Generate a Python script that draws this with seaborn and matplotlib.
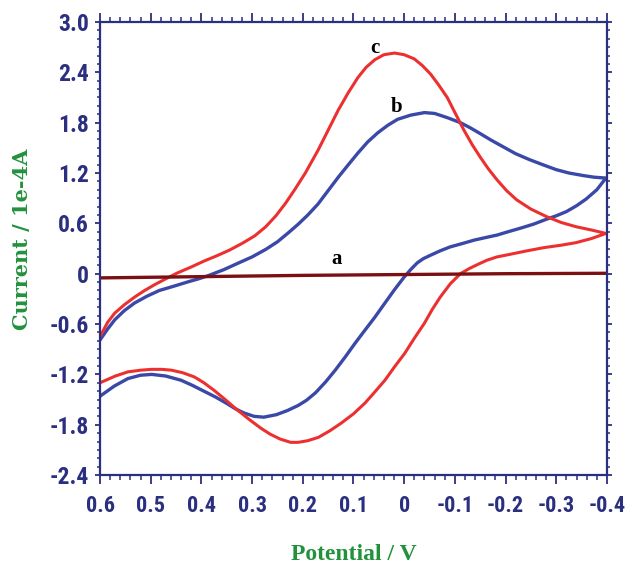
import numpy as np
import pandas as pd
import matplotlib
matplotlib.use("Agg")
import matplotlib.pyplot as plt
import seaborn as sns
from matplotlib import font_manager
from matplotlib.ticker import MultipleLocator

# curve c (red) - forward sweep then return sweep
c_fwd_x = [0.6, 0.585, 0.571, 0.552, 0.532, 0.512, 0.492, 0.470, 0.447, 0.420, 0.395,
           0.371, 0.345, 0.320, 0.295, 0.273, 0.253, 0.234, 0.215, 0.195, 0.170,
           0.150, 0.130, 0.110, 0.091, 0.075, 0.058, 0.040, 0.019, 0.0, -0.020,
           -0.036, -0.052, -0.068, -0.085, -0.101, -0.118, -0.134, -0.150, -0.166,
           -0.183, -0.202, -0.222, -0.250, -0.281, -0.310, -0.339, -0.370, -0.398]
c_fwd_y = [-0.75, -0.58, -0.47, -0.37, -0.28, -0.20, -0.13, -0.06, 0.01, 0.08, 0.15,
           0.21, 0.28, 0.36, 0.45, 0.56, 0.69, 0.84, 1.01, 1.20, 1.47,
           1.71, 1.95, 2.16, 2.34, 2.46, 2.55, 2.61, 2.63, 2.61, 2.56,
           2.48, 2.38, 2.25, 2.10, 1.91, 1.71, 1.54, 1.39, 1.25,
           1.12, 0.99, 0.88, 0.77, 0.68, 0.61, 0.56, 0.52, 0.48]
c_rev_x = [-0.398, -0.370, -0.339, -0.310, -0.275, -0.240, -0.208, -0.183, -0.163, -0.145,
           -0.128, -0.111, -0.091, -0.071, -0.055, -0.040, -0.020, -0.001, 0.019, 0.038,
           0.058, 0.077, 0.100, 0.124, 0.146, 0.169, 0.190, 0.209, 0.224, 0.245,
           0.265, 0.283, 0.305, 0.330, 0.353, 0.375, 0.395, 0.414, 0.437, 0.459,
           0.478, 0.498, 0.520, 0.545, 0.570, 0.6]
c_rev_y = [0.48, 0.42, 0.37, 0.34, 0.31, 0.27, 0.23, 0.20, 0.16, 0.11,
           0.06, 0.0, -0.12, -0.28, -0.43, -0.59, -0.77, -0.95, -1.11, -1.27,
           -1.41, -1.54, -1.67, -1.78, -1.87, -1.95, -1.99, -2.01, -2.01, -1.97,
           -1.91, -1.84, -1.74, -1.62, -1.50, -1.39, -1.30, -1.23, -1.18, -1.15,
           -1.14, -1.14, -1.15, -1.17, -1.22, -1.30]

# curve b (blue)
b_fwd_x = [0.6, 0.585, 0.571, 0.552, 0.532, 0.508, 0.483, 0.455, 0.428, 0.405, 0.385,
           0.355, 0.326, 0.300, 0.273, 0.250, 0.228, 0.209, 0.190, 0.170, 0.150,
           0.130, 0.110, 0.091, 0.072, 0.052, 0.032, 0.013, -0.013, -0.040, -0.060,
           -0.085, -0.111, -0.130, -0.150, -0.172, -0.196, -0.220, -0.247, -0.273,
           -0.300, -0.325, -0.353, -0.375, -0.398]
b_fwd_y = [-0.79, -0.66, -0.55, -0.44, -0.35, -0.27, -0.20, -0.15, -0.10, -0.06, -0.02,
           0.05, 0.13, 0.20, 0.29, 0.38, 0.49, 0.59, 0.70, 0.83, 0.99,
           1.15, 1.30, 1.44, 1.57, 1.68, 1.77, 1.84, 1.89, 1.92, 1.91,
           1.86, 1.80, 1.74, 1.67, 1.59, 1.51, 1.43, 1.36, 1.30,
           1.24, 1.20, 1.17, 1.15, 1.14]
b_rev_x = [-0.398, -0.380, -0.359, -0.340, -0.320, -0.300, -0.281, -0.255, -0.228, -0.205,
           -0.183, -0.160, -0.138, -0.115, -0.091, -0.070, -0.052, -0.038, -0.026, -0.013,
           0.0, 0.019, 0.038, 0.058, 0.077, 0.097, 0.116, 0.136, 0.155, 0.175,
           0.193, 0.209, 0.230, 0.252, 0.277, 0.296, 0.316, 0.333, 0.349, 0.372,
           0.395, 0.418, 0.440, 0.470, 0.498, 0.520, 0.545, 0.572, 0.6]
b_rev_y = [1.14, 1.00, 0.89, 0.81, 0.74, 0.69, 0.65, 0.59, 0.54, 0.50,
           0.46, 0.43, 0.40, 0.36, 0.32, 0.27, 0.22, 0.18, 0.13, 0.05,
           -0.04, -0.19, -0.35, -0.52, -0.67, -0.83, -0.99, -1.15, -1.29, -1.42,
           -1.51, -1.57, -1.63, -1.68, -1.71, -1.70, -1.66, -1.61, -1.55, -1.47,
           -1.40, -1.33, -1.27, -1.22, -1.20, -1.21, -1.25, -1.34, -1.46]

# curve a (blank electrode, nearly flat)
a_x = [0.6, 0.4, 0.2, 0.0, -0.2, -0.4]
a_y = [-0.05, -0.035, -0.02, -0.01, 0.0, 0.005]

navy = "#2b2f80"
green = "#22913c"

installed = {f.name for f in font_manager.fontManager.ttflist}
narrow = [n for n in ["Liberation Sans Narrow", "Roboto Condensed", "Open Sans Condensed",
                      "Arial Narrow"] if n in installed]
if narrow:
    tick_family, xsize, ysize = narrow[0], 16, 17
else:
    tick_family, xsize, ysize = "Liberation Sans", 12.5, 13

sns.set_style("white")

fig = plt.figure(figsize=(6.27, 5.71), dpi=100)
ax = fig.add_axes([0.1595, 0.168, 0.8085, 0.7935])

sns.lineplot(x=b_fwd_x + b_rev_x, y=b_fwd_y + b_rev_y, sort=False, estimator=None,
             color="#3a48a8", lw=2.4, ax=ax)
sns.lineplot(x=c_fwd_x + c_rev_x, y=c_fwd_y + c_rev_y, sort=False, estimator=None,
             color="#ec3030", lw=2.2, ax=ax)
sns.lineplot(x=a_x, y=a_y, sort=False, estimator=None, color="#7a1014", lw=2.4, ax=ax)

ax.set_xlim(0.6, -0.4)
ax.set_ylim(-2.4, 3.0)
ax.xaxis.set_minor_locator(MultipleLocator(0.02))
ax.yaxis.set_minor_locator(MultipleLocator(0.1))

xt = [0.6, 0.5, 0.4, 0.3, 0.2, 0.1, 0, -0.1, -0.2, -0.3, -0.4]
ax.set_xticks(xt)
ax.set_xticklabels([("%g" % v) for v in xt])
yt = [-2.4, -1.8, -1.2, -0.6, 0, 0.6, 1.2, 1.8, 2.4, 3.0]
ax.set_yticks(yt)
ax.set_yticklabels(["0" if v == 0 else "%.1f" % v for v in yt])

for s in ax.spines.values():
    s.set_color(navy)
    s.set_linewidth(1.6)

ax.tick_params(axis="x", which="major", direction="out", length=6.5, width=1.3,
               color=navy, top=True, bottom=True, pad=8)
ax.tick_params(axis="x", which="minor", direction="out", length=3.8, width=1.1,
               color=navy, top=True, bottom=True)
ax.tick_params(axis="y", which="major", direction="out", length=3.8, width=1.3,
               color=navy, left=True, right=True, pad=4)
ax.tick_params(axis="y", which="minor", direction="out", length=2.3, width=1.1,
               color=navy, left=True, right=True)

for lab in ax.get_xticklabels():
    lab.set_family(tick_family)
    lab.set_fontweight("bold")
    lab.set_fontsize(xsize)
    lab.set_color(navy)
for lab in ax.get_yticklabels():
    lab.set_family(tick_family)
    lab.set_fontweight("bold")
    lab.set_fontsize(ysize)
    lab.set_color(navy)

ax.set_xlabel("Potential / V", family=["Liberation Serif", "DejaVu Serif"],
              fontweight="bold", fontsize=17, color=green)
ax.xaxis.set_label_coords(0.5, -0.152)
ax.set_ylabel("Current / 1e-4A", family=["DejaVu Serif"], fontweight="bold",
              fontsize=15, color=green)
ax.yaxis.set_label_coords(-0.135, 0.52)

for txt, tx, ty in [("c", 0.058, 2.69), ("b", 0.015, 1.99), ("a", 0.134, 0.18)]:
    ax.text(tx, ty, txt, family=["Liberation Serif", "DejaVu Serif"], fontweight="bold",
            fontsize=15, color="black", ha="center", va="center")

fig.savefig("out.png", dpi=100)
